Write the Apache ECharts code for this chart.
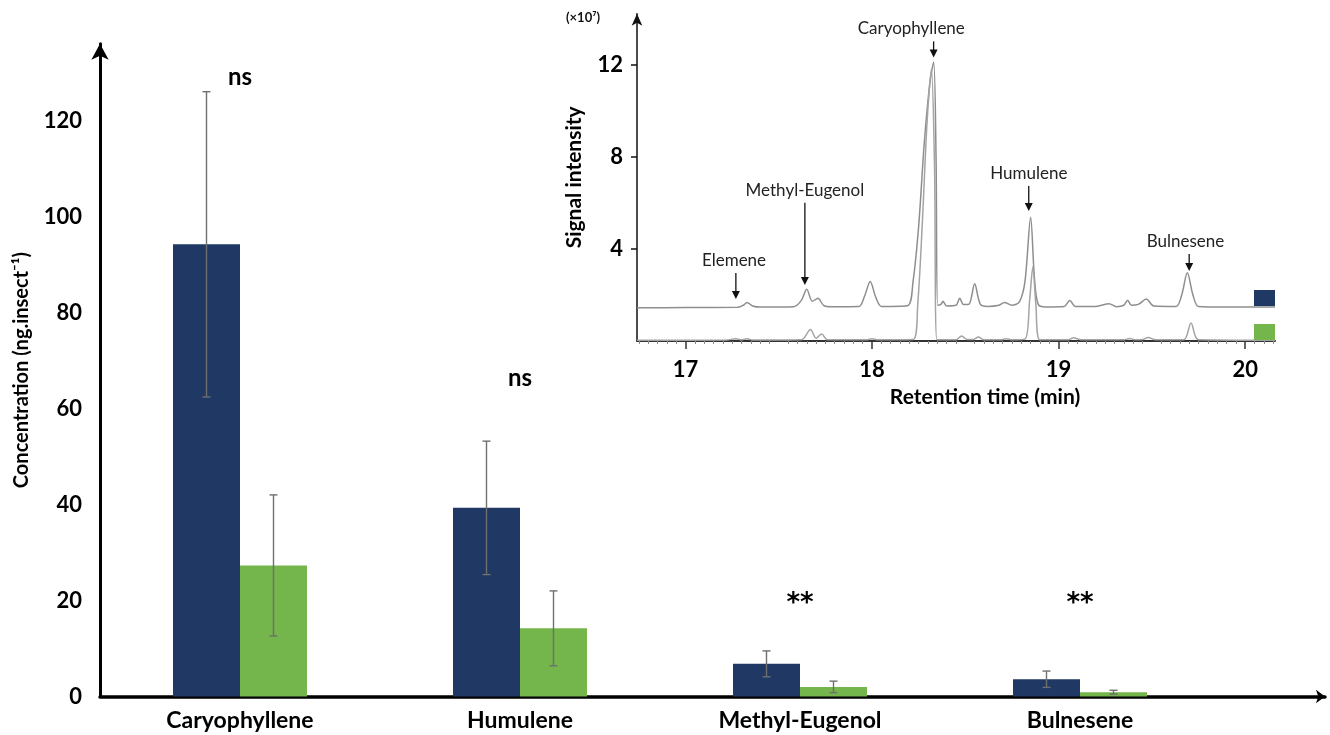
<!DOCTYPE html>
<html>
<head>
<meta charset="utf-8">
<script src="https://cdn.jsdelivr.net/npm/echarts@6/dist/echarts.min.js"></script>
<style>
  html, body { margin: 0; padding: 0; background: #fff; }
  #chart { width: 1330px; height: 735px; }
</style>
</head>
<body>
<div id="chart"></div>
<script>
// main bar chart
const compounds = ['Caryophyllene', 'Humulene', 'Methyl-Eugenol', 'Bulnesene'];
const navyMean = [94.2, 39.3, 6.8, 3.6];
const navyErr = [31.8, 13.9, 2.7, 1.7];
const greenMean = [27.3, 14.2, 2.0, 0.9];
const greenErr = [14.7, 7.8, 1.2, 0.4];
const signifText = ['ns', 'ns', '**', '**'];
const signifAt = [129, 66.4, 19.3, 19.3];

// inset chromatogram
const timeTicks = [17, 18, 19, 20];
const intensityTicks = [4, 8, 12];
const traceTop = [
  [16.74, 1.44], [17.0, 1.45], [17.28, 1.46], [17.31, 1.55], [17.33, 1.67], [17.36, 1.52], [17.40, 1.47],
  [17.58, 1.49], [17.62, 1.75], [17.65, 2.25], [17.68, 1.72], [17.71, 1.85], [17.74, 1.55], [17.78, 1.49],
  [17.93, 1.5], [17.96, 1.95], [17.99, 2.58], [18.02, 1.9], [18.05, 1.5], [18.19, 1.53], [18.22, 2.6],
  [18.25, 5.0], [18.28, 8.6], [18.31, 11.2], [18.33, 12.1], [18.343, 8.0], [18.352, 1.55], [18.37, 1.6],
  [18.38, 1.72], [18.40, 1.52], [18.45, 1.55], [18.47, 1.85], [18.49, 1.58], [18.52, 1.6], [18.55, 2.48],
  [18.58, 1.6], [18.62, 1.5], [18.68, 1.55], [18.71, 1.67], [18.75, 1.55], [18.79, 1.7], [18.82, 2.6],
  [18.85, 5.37], [18.87, 2.8], [18.89, 1.6], [18.93, 1.48], [19.03, 1.5], [19.06, 1.76], [19.09, 1.5],
  [19.2, 1.5], [19.27, 1.62], [19.31, 1.49], [19.35, 1.55], [19.37, 1.77], [19.39, 1.55], [19.43, 1.6],
  [19.47, 1.82], [19.51, 1.52], [19.63, 1.5], [19.66, 2.0], [19.69, 2.96], [19.72, 2.0], [19.75, 1.5],
  [19.9, 1.47], [20.16, 1.47]
];
const traceBottom = [
  [16.74, 0.03], [17.22, 0.04], [17.27, 0.1], [17.3, 0.05], [17.33, 0.1], [17.36, 0.04], [17.62, 0.05],
  [17.67, 0.5], [17.7, 0.12], [17.73, 0.3], [17.76, 0.05], [17.97, 0.05], [18.0, 0.1], [18.03, 0.05],
  [18.22, 0.06], [18.245, 1.6], [18.27, 5.2], [18.295, 9.5], [18.318, 11.8], [18.335, 7.5], [18.348, 0.05],
  [18.45, 0.05], [18.48, 0.22], [18.51, 0.06], [18.54, 0.06], [18.57, 0.17], [18.6, 0.05], [18.69, 0.05],
  [18.72, 0.1], [18.75, 0.05], [18.82, 0.08], [18.845, 1.8], [18.862, 3.22], [18.878, 1.6], [18.9, 0.05],
  [19.05, 0.05], [19.08, 0.14], [19.12, 0.05], [19.35, 0.05], [19.38, 0.11], [19.41, 0.05], [19.45, 0.06],
  [19.48, 0.15], [19.52, 0.05], [19.67, 0.05], [19.71, 0.78], [19.75, 0.05], [20.16, 0.03]
];
const peakNames = ['Elemene', 'Methyl-Eugenol', 'Caryophyllene', 'Humulene', 'Bulnesene'];
const peakTimes = [17.27, 17.64, 18.33, 18.84, 19.70];
const labelTimes = [17.26, 17.64, 18.21, 18.84, 19.68];
const arrowFrom = [2.95, 6.0, 13.0, 6.72, 3.77];
const arrowTo = [1.82, 2.43, 12.3, 5.64, 3.04];

const NAVY = '#1f3864';
const GREEN = '#74b54c';
const FONT = 'Lato, "Open Sans", sans-serif';
const BAR_W = 67;

const chart = echarts.init(document.getElementById('chart'), null, { renderer: 'canvas' });

function errorBars(offset) {
  return function (params, api) {
    const i = api.value(0);
    const lo = api.coord([i, api.value(1)]);
    const hi = api.coord([i, api.value(2)]);
    const x = lo[0] + offset;
    const style = { stroke: '#6f6f6f', lineWidth: 1.4 };
    return {
      type: 'group',
      children: [
        { type: 'line', shape: { x1: x, y1: hi[1], x2: x, y2: lo[1] }, style },
        { type: 'line', shape: { x1: x - 4, y1: hi[1], x2: x + 4, y2: hi[1] }, style },
        { type: 'line', shape: { x1: x - 4, y1: lo[1], x2: x + 4, y2: lo[1] }, style }
      ]
    };
  };
}

// significance marks, drawn as text at (category, value)
function signifMark(params, api) {
  const p = api.coord([api.value(0), api.value(1)]);
  const txt = signifText[params.dataIndex];
  const star = txt.indexOf('*') >= 0;
  return {
    type: 'text',
    x: p[0],
    y: p[1],
    style: {
      text: txt,
      fill: '#000',
      font: star ? 'bold 26px "DejaVu Sans", sans-serif' : 'bold 24px ' + FONT,
      align: 'center',
      verticalAlign: 'middle'
    }
  };
}

function peakArrow(params, api) {
  const idx = api.value(3);
  const a = api.coord([api.value(0), api.value(1)]);
  const b = api.coord([api.value(0), api.value(2)]);
  const t = api.coord([labelTimes[idx], api.value(1)]);
  return {
    type: 'group',
    children: [
      { type: 'line', shape: { x1: a[0], y1: a[1], x2: b[0], y2: b[1] - 6 }, style: { stroke: '#111', lineWidth: 1.3 } },
      { type: 'polygon', shape: { points: [[b[0] - 4, b[1] - 8], [b[0] + 4, b[1] - 8], [b[0], b[1]]] }, style: { fill: '#111' } },
      { type: 'text', x: t[0], y: a[1] - 4, style: { text: peakNames[idx], font: '17px ' + FONT, fill: '#222', align: 'center', verticalAlign: 'bottom' } }
    ]
  };
}

chart.setOption({
  animation: false,
  backgroundColor: '#fff',
  textStyle: { fontFamily: FONT },
  grid: [
    { left: 100, right: 110, top: 43.7, bottom: 38.5 },
    { left: 100, right: 5, top: 43.7, bottom: 38.5 },
    { left: 637, right: 55, top: 13.7, bottom: 394 }
  ],
  legend: {
    data: ['Group 1', 'Group 2'],
    orient: 'vertical',
    left: 1254,
    top: 290,
    padding: 0,
    icon: 'rect',
    itemWidth: 21,
    itemHeight: 16,
    itemGap: 18,
    selectedMode: false,
    formatter: () => ''
  },
  graphic: [
    { type: 'text', left: 566, top: 11, style: { text: '(×10⁷)', font: 'bold 13px ' + FONT, fill: '#111' } }
  ],
  xAxis: [
    {
      type: 'category',
      gridIndex: 0,
      data: compounds,
      axisLine: { show: false },
      axisTick: { show: false },
      axisLabel: { color: '#000', fontSize: 23, fontWeight: 'bold', margin: 13, interval: 0 }
    },
    {
      type: 'value',
      gridIndex: 1,
      min: 0,
      max: 1,
      axisLine: { show: true, symbol: ['none', 'arrow'], symbolSize: [10, 9], lineStyle: { color: '#000', width: 3.5 } },
      axisTick: { show: false },
      axisLabel: { show: false },
      splitLine: { show: false }
    },
    {
      type: 'value',
      gridIndex: 2,
      min: 16.74,
      max: 20.16,
      name: 'Retention time (min)',
      nameLocation: 'middle',
      nameGap: 46,
      nameTextStyle: { color: '#000', fontSize: 21, fontWeight: 'bold', padding: [0, 0, 0, 58] },
      axisLine: { lineStyle: { color: '#333', width: 2 } },
      axisTick: { show: true, customValues: timeTicks, length: 8, lineStyle: { color: '#333', width: 1.5 } },
      minorTick: { show: true, splitNumber: 10, length: 3, lineStyle: { color: '#888' } },
      axisLabel: { customValues: timeTicks, color: '#000', fontSize: 22, fontWeight: 'bold', margin: 18 },
      splitLine: { show: false }
    }
  ],
  yAxis: [
    {
      type: 'value',
      gridIndex: 0,
      min: 0,
      max: 136,
      interval: 20,
      name: 'Concentration (ng.insect⁻¹)',
      nameLocation: 'middle',
      nameGap: 68,
      nameTextStyle: { color: '#000', fontSize: 20, fontWeight: 'bold' },
      axisLine: { show: true, symbol: ['none', 'arrow'], symbolSize: [13, 16], lineStyle: { color: '#000', width: 3 } },
      axisTick: { show: false },
      axisLabel: { color: '#000', fontSize: 22, fontWeight: 'bold', margin: 18, showMaxLabel: false },
      splitLine: { show: false }
    },
    { type: 'value', gridIndex: 1, show: false, min: 0, max: 136 },
    {
      type: 'value',
      gridIndex: 2,
      min: 0,
      max: 14.2,
      name: 'Signal intensity',
      nameLocation: 'middle',
      nameGap: 52,
      nameTextStyle: { color: '#000', fontSize: 21, fontWeight: 'bold' },
      axisLine: { show: true, symbol: ['none', 'arrow'], symbolSize: [8, 12], lineStyle: { color: '#111', width: 1.5 } },
      axisTick: { show: true, customValues: intensityTicks, length: 6, lineStyle: { color: '#111', width: 1.5 } },
      axisLabel: { customValues: intensityTicks, color: '#000', fontSize: 22, fontWeight: 'bold', margin: 14 },
      splitLine: { show: false }
    }
  ],
  series: [
    {
      name: 'Group 1',
      type: 'bar',
      xAxisIndex: 0,
      yAxisIndex: 0,
      data: navyMean,
      barWidth: BAR_W,
      barGap: '0%',
      itemStyle: { color: NAVY }
    },
    {
      name: 'Group 2',
      type: 'bar',
      xAxisIndex: 0,
      yAxisIndex: 0,
      data: greenMean,
      barWidth: BAR_W,
      barGap: '0%',
      itemStyle: { color: GREEN }
    },
    {
      type: 'custom',
      xAxisIndex: 0,
      yAxisIndex: 0,
      z: 5,
      renderItem: errorBars(-BAR_W / 2),
      encode: { x: 0, y: [1, 2] },
      data: navyMean.map((v, i) => [i, v - navyErr[i], v + navyErr[i]])
    },
    {
      type: 'custom',
      xAxisIndex: 0,
      yAxisIndex: 0,
      z: 5,
      renderItem: errorBars(BAR_W / 2),
      encode: { x: 0, y: [1, 2] },
      data: greenMean.map((v, i) => [i, v - greenErr[i], v + greenErr[i]])
    },
    {
      type: 'custom',
      xAxisIndex: 0,
      yAxisIndex: 0,
      z: 6,
      clip: false,
      renderItem: signifMark,
      encode: { x: 0, y: 1 },
      data: signifAt.map((v, i) => [i, v])
    },
    {
      type: 'line',
      xAxisIndex: 2,
      yAxisIndex: 2,
      data: traceTop,
      showSymbol: false,
      smooth: 0.3,
      lineStyle: { color: '#8e8e8e', width: 1.5 }
    },
    {
      type: 'line',
      xAxisIndex: 2,
      yAxisIndex: 2,
      data: traceBottom,
      showSymbol: false,
      smooth: 0.3,
      lineStyle: { color: '#a4a4a4', width: 1.5 }
    },
    {
      type: 'custom',
      xAxisIndex: 2,
      yAxisIndex: 2,
      clip: false,
      z: 6,
      renderItem: peakArrow,
      encode: { x: 0, y: [1, 2] },
      data: peakTimes.map((t, i) => [t, arrowFrom[i], arrowTo[i], i])
    }
  ]
});

window.addEventListener('resize', () => chart.resize());
</script>
</body>
</html>
